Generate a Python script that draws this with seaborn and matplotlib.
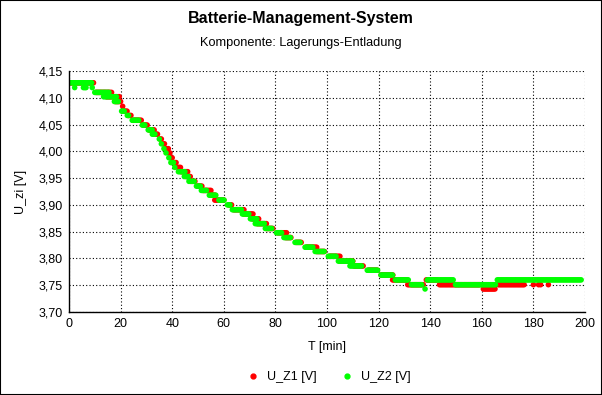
import numpy as np
import pandas as pd
import matplotlib.pyplot as plt
import seaborn as sns

# voltage runs: (start min, end min, voltage)
z1_start = [0.5, 10.5, 14.5, 18.0, 20.8, 21.0, 23.0, 25.0, 28.8, 31.0, 32.8, 35.3, 36.5, 37.5, 38.6,
            39.5, 40.5, 42.2, 43.5, 45.5, 47.3, 50.0, 52.0, 55.2, 56.5, 62.0, 63.8, 67.8, 71.0, 73.0,
            76.5, 80.8, 84.0, 88.0, 92.0, 96.0, 101.0, 105.0, 110.5, 116.0, 121.0, 125.4, 131.3,
            138.5, 143.6, 160.6, 166.4, 180.0, 182.0, 182.8, 185.8]
z1_end = [9.6, 16.6, 19.6, 20.0, 21.2, 22.5, 24.2, 28.0, 30.5, 33.0, 34.5, 36.0, 37.2, 38.5, 39.3,
          40.3, 41.8, 43.3, 46.2, 47.0, 49.0, 51.8, 55.2, 57.0, 60.4, 63.2, 67.8, 71.4, 73.8, 76.8,
          79.2, 84.3, 86.3, 90.3, 96.4, 99.3, 105.4, 110.3, 114.0, 119.8, 125.5, 131.0, 137.3,
          142.5, 159.5, 165.4, 176.8, 180.0, 182.0, 182.8, 185.8]
z1_volt = [4.128, 4.110, 4.102, 4.093, 4.084, 4.075, 4.067, 4.058, 4.049, 4.040, 4.032, 4.023, 4.014,
           4.005, 3.997, 3.988, 3.979, 3.970, 3.962, 3.953, 3.944, 3.935, 3.927, 3.918, 3.909, 3.900,
           3.891, 3.883, 3.874, 3.865, 3.856, 3.848, 3.839, 3.830, 3.821, 3.813, 3.804, 3.795, 3.786,
           3.778, 3.769, 3.760, 3.751, 3.760, 3.751, 3.743, 3.751, 3.751, 3.751, 3.751, 3.751]

z2_start = [0.3, 2.2, 5.6, 9.0, 10.0, 13.4, 17.6, 20.4, 22.6, 24.5, 28.4, 30.7, 32.3, 35.0, 35.8,
            36.8, 37.6, 38.7, 39.5, 41.0, 42.4, 44.7, 46.5, 49.4, 51.3, 54.4, 58.1, 61.4, 63.3, 67.2,
            70.3, 72.2, 76.1, 80.4, 83.3, 87.6, 91.5, 95.4, 100.5, 104.4, 108.9, 115.6, 120.9, 126.5,
            132.7, 138.0, 138.9, 149.8, 166.0]
z2_end = [8.8, 2.2, 6.6, 9.0, 15.8, 18.8, 19.2, 21.6, 23.5, 27.4, 29.8, 32.4, 33.6, 35.0, 35.8,
          36.8, 37.6, 39.1, 40.8, 41.0, 45.2, 46.5, 48.5, 51.1, 53.7, 56.9, 60.1, 62.7, 67.1, 69.9,
          73.1, 75.7, 78.9, 82.8, 86.0, 89.9, 94.8, 99.0, 103.8, 110.0, 113.8, 119.6, 125.8, 131.9,
          137.1, 138.0, 149.0, 165.3, 198.5]
z2_volt = [4.128, 4.119, 4.119, 4.119, 4.110, 4.102, 4.093, 4.075, 4.067, 4.058, 4.049, 4.040, 4.032,
           4.023, 4.014, 4.005, 3.997, 3.988, 3.979, 3.970, 3.962, 3.953, 3.944, 3.935, 3.927, 3.918,
           3.909, 3.900, 3.891, 3.883, 3.874, 3.865, 3.856, 3.848, 3.839, 3.830, 3.821, 3.813, 3.804,
           3.795, 3.786, 3.778, 3.769, 3.760, 3.751, 3.743, 3.760, 3.751, 3.760]

series_names = ["U_Z1 [V]", "U_Z2 [V]"]
series_colors = ["#ff0000", "#00ff00"]


def runs_to_rows(starts, ends, volts, name):
    rows = []
    for a, b, v in zip(starts, ends, volts):
        for t in np.arange(a, b + 0.01, 0.5):
            rows.append((t, v, name))
    return rows


rows = runs_to_rows(z1_start, z1_end, z1_volt, series_names[0])
rows += runs_to_rows(z2_start, z2_end, z2_volt, series_names[1])
df = pd.DataFrame(rows, columns=["T", "U", "Reihe"])

sns.set_style("white")
plt.rcParams["font.family"] = ["Liberation Sans", "DejaVu Sans"]
plt.rcParams["text.color"] = "black"
plt.rcParams["axes.labelcolor"] = "black"

fig = plt.figure(figsize=(6.02, 3.95), dpi=100)
ax = fig.add_axes([0.1146, 0.2101, 0.8572, 0.6102])

sns.scatterplot(data=df, x="T", y="U", hue="Reihe", palette=series_colors,
                s=16, linewidth=0, ax=ax, legend=False)

ax.set_xlim(0, 200)
ax.set_ylim(3.70, 4.15)
xt = np.arange(0, 201, 20)
yt = np.round(np.arange(3.70, 4.151, 0.05), 2)
ax.set_xticks(xt)
ax.set_yticks(yt)
ax.set_yticklabels([f"{v:.2f}".replace(".", ",") for v in yt])
ax.tick_params(direction="inout", length=5, width=0.8, colors="black", labelsize=9, pad=2)
ax.grid(True, color="black", linestyle=(0, (1, 2)), linewidth=0.8)
sns.despine(ax=ax)
for side in ["left", "bottom"]:
    ax.spines[side].set_color("black")
    ax.spines[side].set_linewidth(1.0)

ax.set_xlabel("T [min]", fontsize=9, labelpad=8)
ax.set_ylabel("U_zi [V]", fontsize=9, labelpad=8)

fig.text(0.5, 0.952, "Batterie-Management-System", ha="center", va="center",
         fontsize=11.5, fontweight="bold")
fig.text(0.5, 0.891, "Komponente: Lagerungs-Entladung", ha="center", va="center", fontsize=9.2)

handles = [plt.Line2D([], [], marker="o", linestyle="", color=c, markersize=3.5)
           for c in series_colors]
fig.legend(handles, series_names, loc="center", bbox_to_anchor=(0.546, 0.045), ncol=2,
           frameon=False, fontsize=9, handletextpad=0.6, columnspacing=1.9, handlelength=1.0)

fig.add_artist(plt.Rectangle((0, 0), 1, 1, transform=fig.transFigure, fill=False,
                             edgecolor="black", linewidth=1.5))

fig.savefig("out.png", dpi=100)
